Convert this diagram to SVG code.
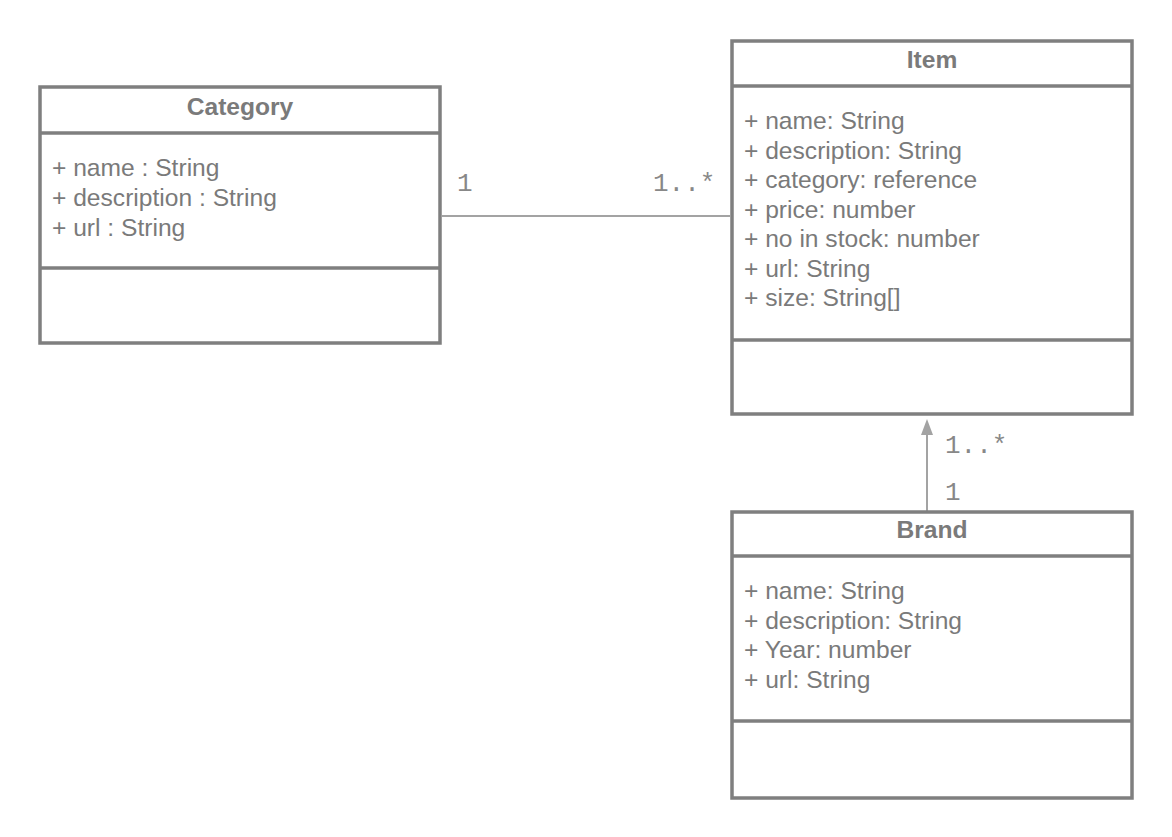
<svg xmlns="http://www.w3.org/2000/svg" width="1172" height="837" viewBox="0 0 1172 837">
<style>
.box{fill:#ffffff;stroke:#7f7f7f;stroke-width:3.5}
.div{stroke:#7f7f7f;stroke-width:3.5}
.title{font-family:"Liberation Sans",Arial,sans-serif;font-size:24.6px;font-weight:bold;fill:#7a7a7a;text-anchor:middle}
.attr{font-family:"Liberation Sans",Arial,sans-serif;font-size:24.6px;fill:#7a7a7a}
.mult{font-family:"Liberation Mono","Courier New",monospace;font-size:26px;fill:#888888}
.conn{stroke:#a3a3a3;stroke-width:2;fill:none}
</style>
<rect width="1172" height="837" fill="#ffffff"/>
<g id="connectors">
<line class="conn" x1="442" y1="216" x2="730" y2="216"/>
<line class="conn" x1="927" y1="511" x2="927" y2="432"/>
<path d="M921,435 L927,419 L933,435 Z" fill="#a3a3a3"/>
<text class="mult" x="457" y="191">1</text>
<text class="mult" x="653" y="191">1..*</text>
<text class="mult" x="945" y="453">1..*</text>
<text class="mult" x="945" y="500">1</text>
</g>
<g id="category">
<rect class="box" x="40" y="87" width="400" height="256"/>
<line class="div" x1="40" y1="133" x2="440" y2="133"/>
<line class="div" x1="40" y1="268" x2="440" y2="268"/>
<text class="title" x="240" y="115">Category</text>
<text class="attr" x="52" y="176">+ name : String</text>
<text class="attr" x="52" y="206">+ description : String</text>
<text class="attr" x="52" y="236">+ url : String</text>
</g>
<g id="item">
<rect class="box" x="732" y="41" width="400" height="373"/>
<line class="div" x1="732" y1="86" x2="1132" y2="86"/>
<line class="div" x1="732" y1="340" x2="1132" y2="340"/>
<text class="title" x="932" y="68">Item</text>
<text class="attr" x="744" y="129">+ name: String</text>
<text class="attr" x="744" y="158.5">+ description: String</text>
<text class="attr" x="744" y="188">+ category: reference</text>
<text class="attr" x="744" y="217.5">+ price: number</text>
<text class="attr" x="744" y="247">+ no in stock: number</text>
<text class="attr" x="744" y="276.5">+ url: String</text>
<text class="attr" x="744" y="306">+ size: String[]</text>
</g>
<g id="brand">
<rect class="box" x="732" y="512" width="400" height="286"/>
<line class="div" x1="732" y1="556" x2="1132" y2="556"/>
<line class="div" x1="732" y1="721" x2="1132" y2="721"/>
<text class="title" x="932" y="538">Brand</text>
<text class="attr" x="744" y="599">+ name: String</text>
<text class="attr" x="744" y="629">+ description: String</text>
<text class="attr" x="744" y="658">+ Year: number</text>
<text class="attr" x="744" y="688">+ url: String</text>
</g>
</svg>
